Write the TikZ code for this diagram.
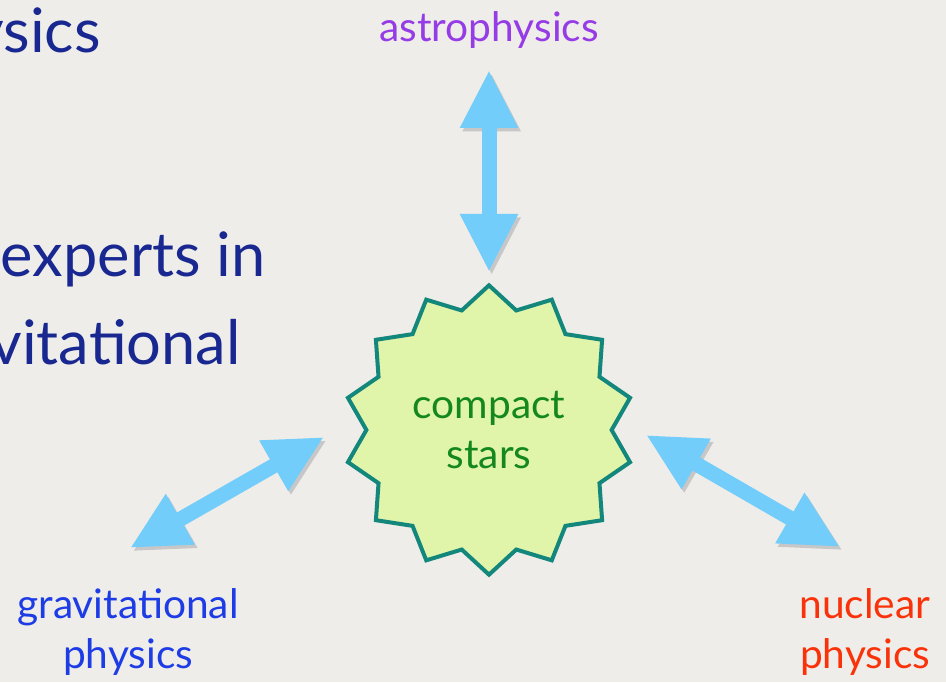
\documentclass[tikz,border=0pt]{standalone}
\usepackage{fontspec}
\setmainfont{Lato}
\usetikzlibrary{arrows.meta,shapes.geometric}

\definecolor{paper}{RGB}{238,237,233}
\definecolor{skyarrow}{RGB}{115,205,250}
\definecolor{starfill}{RGB}{224,244,170}
\definecolor{starline}{RGB}{20,135,125}
\definecolor{stargreen}{RGB}{20,135,30}
\definecolor{astropurple}{RGB}{150,60,230}
\definecolor{gravblue}{RGB}{30,60,230}
\definecolor{nuclred}{RGB}{250,50,10}
\definecolor{slideblue}{RGB}{25,40,145}

\begin{document}
\begin{tikzpicture}[x=0.75pt, y=0.75pt,
    field/.style={align=center, inner sep=0pt, font=\fontsize{30.5}{37.5}\selectfont},
    slide/.style={anchor=base east, inner sep=0pt, text=slideblue, font=\fontsize{46}{50}\selectfont},
    biarrow/.style={{Triangle[width=40.5pt,length=43.5pt]}-{Triangle[width=40.5pt,length=43.5pt]},
        line width=11.25pt, draw=skyarrow,
        preaction={draw=black!22, transform canvas={shift={(2pt,-2.5pt)}}}}]
    \fill[paper] (0,0) rectangle (946,682);
    \useasboundingbox (0,0) rectangle (946,682);
    \clip (0,0) rectangle (946,682);

    % slide text behind the diagram
    \node[slide] (t1) at (101,629) {ysics};
    \node[slide] (t2) at (266,405) {experts in};
    \node[slide] (t3) at (241,317) {vitational};

    % the star and the fields round it
    \node[star, star points=14, star point ratio=1.18, minimum size=217pt, inner sep=0pt,
        fill=starfill, draw=starline, line width=3pt, text=stargreen, align=center,
        font=\fontsize{30.5}{37.5}\selectfont] (cstar) at (489,252) {compact\\stars};
    \node[field, text=astropurple] (astro) at (489,652) {astrophysics};
    \node[field, text=gravblue] (grav) at (128,50) {gravitational\\physics};
    \node[field, text=nuclred] (nucl) at (865,50) {nuclear\\physics};

    \coordinate (a1) at (489,612);
    \coordinate (a2) at (489,410);
    \coordinate (g1) at (324,245);
    \coordinate (g2) at (130,134);
    \coordinate (n1) at (646,247);
    \coordinate (n2) at (840,135);

    \draw[biarrow] (a1) -- (a2);
    \draw[biarrow] (g1) -- (g2);
    \draw[biarrow] (n1) -- (n2);
\end{tikzpicture}
\end{document}
